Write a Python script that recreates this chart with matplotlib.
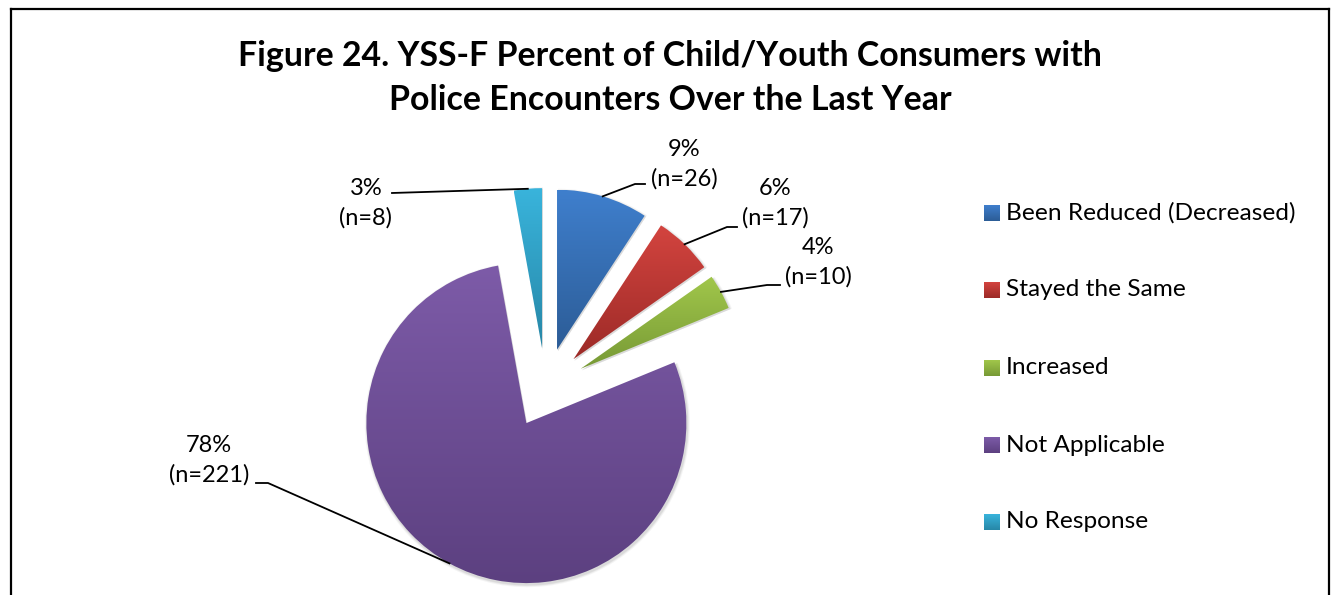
import numpy as np
import matplotlib
matplotlib.use("Agg")
import matplotlib.pyplot as plt
from matplotlib.colors import LinearSegmentedColormap
from matplotlib.lines import Line2D
from matplotlib.patches import Wedge, Rectangle

# ---- data -------------------------------------------------------------
categories = ["Been Reduced (Decreased)", "Stayed the Same", "Increased",
              "Not Applicable", "No Response"]
counts = [26, 17, 10, 221, 8]

# top / bottom shades of each slice's vertical gradient
shade_top = ["#3F7FCD", "#D3443F", "#A1C74B", "#7D5BA8", "#39B4DC"]
shade_bottom = ["#2C5C96", "#9C2A27", "#779935", "#5C4080", "#2787A7"]

title = "Figure 24. YSS-F Percent of Child/Youth Consumers with\nPolice Encounters Over the Last Year"

# ---- layout (pixel coordinates, origin top-left) ----------------------
W, H, DPI = 1335, 595, 100
CX, CY, SCALE = 545.6, 388.0, 160.0     # pie centre and radius in px
label_elbow = [(635, 184), (727, 227), (767, 285), (268, 483), (392, 193)]
label_end = [(645, 184), (737, 227), (780, 285), (256, 483), (392, 193)]
label_pos = [(684, 164), (775, 203), (818, 262), (209, 460), (366, 203)]
legend_x, legend_text_x = 984, 1006
legend_rows = [213, 290, 368, 445, 522]

FONT = "Lato"


def to_data(x, y):
    return ((x - CX) / SCALE, (CY - y) / SCALE)


fig = plt.figure(figsize=(W / DPI, H / DPI), dpi=DPI)
fig.patch.set_facecolor("white")
ax = fig.add_axes([0, 0, 1, 1])


def set_limits():
    ax.set_xlim(to_data(0, 0)[0], to_data(W, 0)[0])
    ax.set_ylim(to_data(0, H)[1], to_data(0, 0)[1])
    ax.set_aspect("auto")
    ax.axis("off")


def gradient_fill(patch, top, bottom, extent, z):
    cmap = LinearSegmentedColormap.from_list("shade", [top, bottom])
    grad = np.linspace(0, 1, 256).reshape(-1, 1)
    im = ax.imshow(grad, cmap=cmap, extent=extent, origin="upper",
                   aspect="auto", interpolation="bilinear", zorder=z)
    im.set_clip_path(patch)


total = sum(counts)
wedges, _ = ax.pie(counts, explode=[0.25] * len(counts), startangle=90,
                   counterclock=False, radius=1, center=(0, 0),
                   wedgeprops=dict(linewidth=0))

# soft drop shadow under each slice
for w in wedges:
    for k, a in [(0.016, 0.04), (0.010, 0.05), (0.005, 0.06)]:
        sh = Wedge((w.center[0] + 0.006, w.center[1] - 0.01), w.r + k,
                   w.theta1, w.theta2, facecolor="black", alpha=a,
                   linewidth=0, zorder=0.5)
        ax.add_patch(sh)

for w, top, bot in zip(wedges, shade_top, shade_bottom):
    v = w.get_path().vertices
    x0, y0 = v.min(axis=0)
    x1, y1 = v.max(axis=0)
    w.set_zorder(2)
    gradient_fill(w, top, bot, (x0, x1, y0, y1), 2)
    w.set_facecolor("none")

# data labels with leader lines
for w, c, elb, end, pos in zip(wedges, counts, label_elbow, label_end, label_pos):
    mid = np.deg2rad((w.theta1 + w.theta2) / 2)
    ax_pt = (w.center[0] + w.r * np.cos(mid), w.center[1] + w.r * np.sin(mid))
    e = to_data(*elb)
    t = to_data(*end)
    ax.add_line(Line2D([ax_pt[0], e[0], t[0]], [ax_pt[1], e[1], t[1]],
                       color="black", linewidth=1.3, zorder=3))
    pct = round(c / total * 100)
    p = to_data(*pos)
    ax.text(p[0], p[1], f"{pct}%\n(n={c})", ha="center", va="center",
            fontsize=17, family=FONT, color="black", linespacing=1.45, zorder=4)

# legend
for name, top, bot, yrow in zip(categories, shade_top, shade_bottom, legend_rows):
    x0, y0 = to_data(legend_x, yrow + 8)
    x1, y1 = to_data(legend_x + 16, yrow - 8)
    r = Rectangle((x0, y0), x1 - x0, y1 - y0, facecolor="none", linewidth=0)
    ax.add_patch(r)
    gradient_fill(r, top, bot, (x0, x1, y0, y1), 2)
    tx, ty = to_data(legend_text_x, yrow)
    ax.text(tx, ty, name, ha="left", va="center", fontsize=17.6,
            family=FONT, color="black")

# title
tx, ty = to_data(670, 78)
ax.text(tx, ty, title, ha="center", va="center", fontsize=24.4,
        fontweight="bold", family=FONT, color="black", linespacing=1.5)

set_limits()

# chart frame
frame_kw = dict(color="black", linewidth=1.6, transform=fig.transFigure)
fig.add_artist(Line2D([11 / W, 11 / W], [0, 1 - 9 / H], **frame_kw))
fig.add_artist(Line2D([11 / W, 1329 / W], [1 - 9 / H, 1 - 9 / H], **frame_kw))
fig.add_artist(Line2D([1329 / W, 1329 / W], [0, 1 - 9 / H], **frame_kw))

fig.savefig("out.png", dpi=DPI, facecolor="white")
